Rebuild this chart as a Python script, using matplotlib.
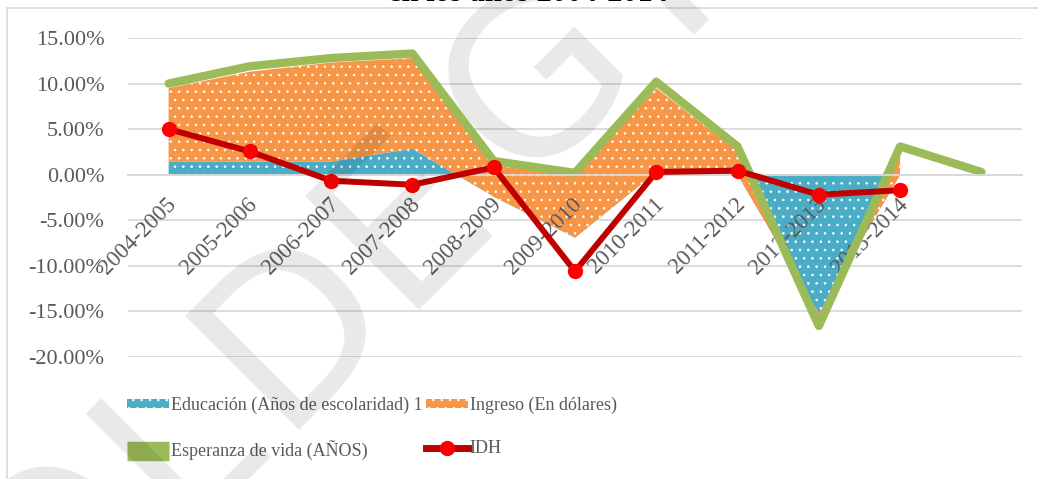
import numpy as np
import matplotlib
matplotlib.use("Agg")
import matplotlib.pyplot as plt
from matplotlib.lines import Line2D
from matplotlib.patches import Patch, Rectangle
from matplotlib.ticker import MultipleLocator, FuncFormatter
from matplotlib.transforms import ScaledTranslation

plt.rcParams['font.family'] = ['Liberation Serif', 'DejaVu Serif']
plt.rcParams['hatch.linewidth'] = 0.6

# datos (en %)
periodos = ['2004-2005', '2005-2006', '2006-2007', '2007-2008', '2008-2009',
            '2009-2010', '2010-2011', '2011-2012', '2012-2013', '2013-2014', '']
educacion = [1.45, 1.45, 1.45, 2.85, -2.4, -6.9, 0.3, 0.0, -15.2, 0.0, np.nan]
ingreso = [8.05, 9.85, 10.85, 9.95, 3.4, 6.9, 9.2, 2.6, -0.6, 2.2, np.nan]
esperanza = [10.0, 11.9, 12.8, 13.3, 1.5, 0.2, 10.2, 3.1, -16.6, 3.1, 0.3]
idh = [5.0, 2.55, -0.66, -1.1, 0.8, -10.6, 0.3, 0.45, -2.2, -1.7, np.nan]

# marca de agua: letras y punto de anclaje (px desde arriba-izquierda)
marca_letras = ['O', 'L', 'D', 'E', 'G', 'I']
marca_anclaje = [(47, 659), (178, 528), (277, 430), (397, 310), (521, 186), (672, 35)]

azul = '#4BACC6'
naranja = '#F79646'
verde = '#9BBB59'
gris = '#595959'

W, H = 1038, 479
fig = plt.figure(figsize=(W / 100, H / 100), dpi=100)

# marco del grafico
fig.patches.append(Rectangle((7 / W, -0.1), 1.1, (H - 8) / H + 0.1, transform=fig.transFigure,
                             facecolor='none', edgecolor='#d9d9d9', lw=1.2, zorder=0))

ax = fig.add_axes([128 / W, (H - 357) / H, 894 / W, 319 / H])
ax.set_facecolor('none')

x = np.arange(len(periodos))
edu = np.array(educacion)
tope = edu + np.array(ingreso)

ax.fill_between(x, 0, edu, facecolor=azul, edgecolor='white', hatch='..', linewidth=0, zorder=1)
ax.fill_between(x, edu, tope, facecolor=naranja, edgecolor='white', hatch='..', linewidth=0, zorder=1.1)
ax.plot(x, esperanza, color=verde, lw=6, solid_capstyle='round', solid_joinstyle='round', zorder=2)
ax.plot(x, idh, color='#C00000', lw=4.3, marker='o', markersize=10,
        markerfacecolor='#FF0000', markeredgecolor='#FF0000', zorder=3)

ax.set_xlim(-0.5, len(periodos) - 0.5)
ax.set_ylim(-20, 15)
ax.yaxis.set_major_locator(MultipleLocator(5))
ax.yaxis.set_major_formatter(FuncFormatter(lambda v, p: f"{v:.2f}%"))
ax.yaxis.grid(True, color='#d9d9d9', lw=1.3)
ax.yaxis.set_zorder(0.5)
ax.xaxis.set_zorder(1.5)

for s in ['top', 'right', 'left']:
    ax.spines[s].set_visible(False)
ax.spines['bottom'].set_position(('data', 0))
ax.spines['bottom'].set_color('#d9d9d9')
ax.spines['bottom'].set_linewidth(1.3)

ax.tick_params(axis='y', length=0, pad=17, labelsize=16, labelcolor=gris)
ax.tick_params(axis='x', length=0, pad=14, labelsize=16.5, labelcolor=gris)
ax.set_xticks(x)
ax.set_xticklabels(periodos, rotation=45, ha='right', va='top', rotation_mode='anchor')
for lbl in ax.get_xticklabels():
    lbl.set_transform(lbl.get_transform() + ScaledTranslation(-0.03, 0, fig.dpi_scale_trans))

# leyenda
h_edu = Patch(facecolor=azul, edgecolor='white', hatch='..', linewidth=0)
h_ing = Patch(facecolor=naranja, edgecolor='white', hatch='..', linewidth=0)
h_esp = Line2D([], [], color=verde, lw=14, solid_capstyle='butt')
h_idh = Line2D([], [], color='#C00000', lw=5, marker='o', markersize=10,
               markerfacecolor='#FF0000', markeredgecolor='#FF0000')
fig.legend([h_edu, h_esp, h_ing, h_idh],
           ['Educación (Años de escolaridad) 1', 'Esperanza de vida (AÑOS)',
            'Ingreso (En dólares)', 'IDH'],
           ncol=2, loc='upper left', bbox_to_anchor=(127 / W, (H - 397) / H),
           frameon=False, fontsize=13, labelcolor=gris, borderpad=0, borderaxespad=0,
           handlelength=2.3, handleheight=0.4, handletextpad=0.12, columnspacing=0.2,
           labelspacing=1.45)

# titulo (cortado en la parte superior)
fig.text(528 / W, (H - 1) / H, 'en los años 2004-2014', ha='center', va='baseline',
         fontsize=22, fontweight='bold', color='black')

# marca de agua
for letra, (ox, oy) in zip(marca_letras, marca_anclaje):
    fig.text(ox / W, (H - oy) / H, letra, family='DejaVu Sans', fontsize=160,
             color='black', alpha=0.09, rotation=45, rotation_mode='anchor',
             ha='left', va='baseline', zorder=10)

fig.savefig('out.png', dpi=100)
